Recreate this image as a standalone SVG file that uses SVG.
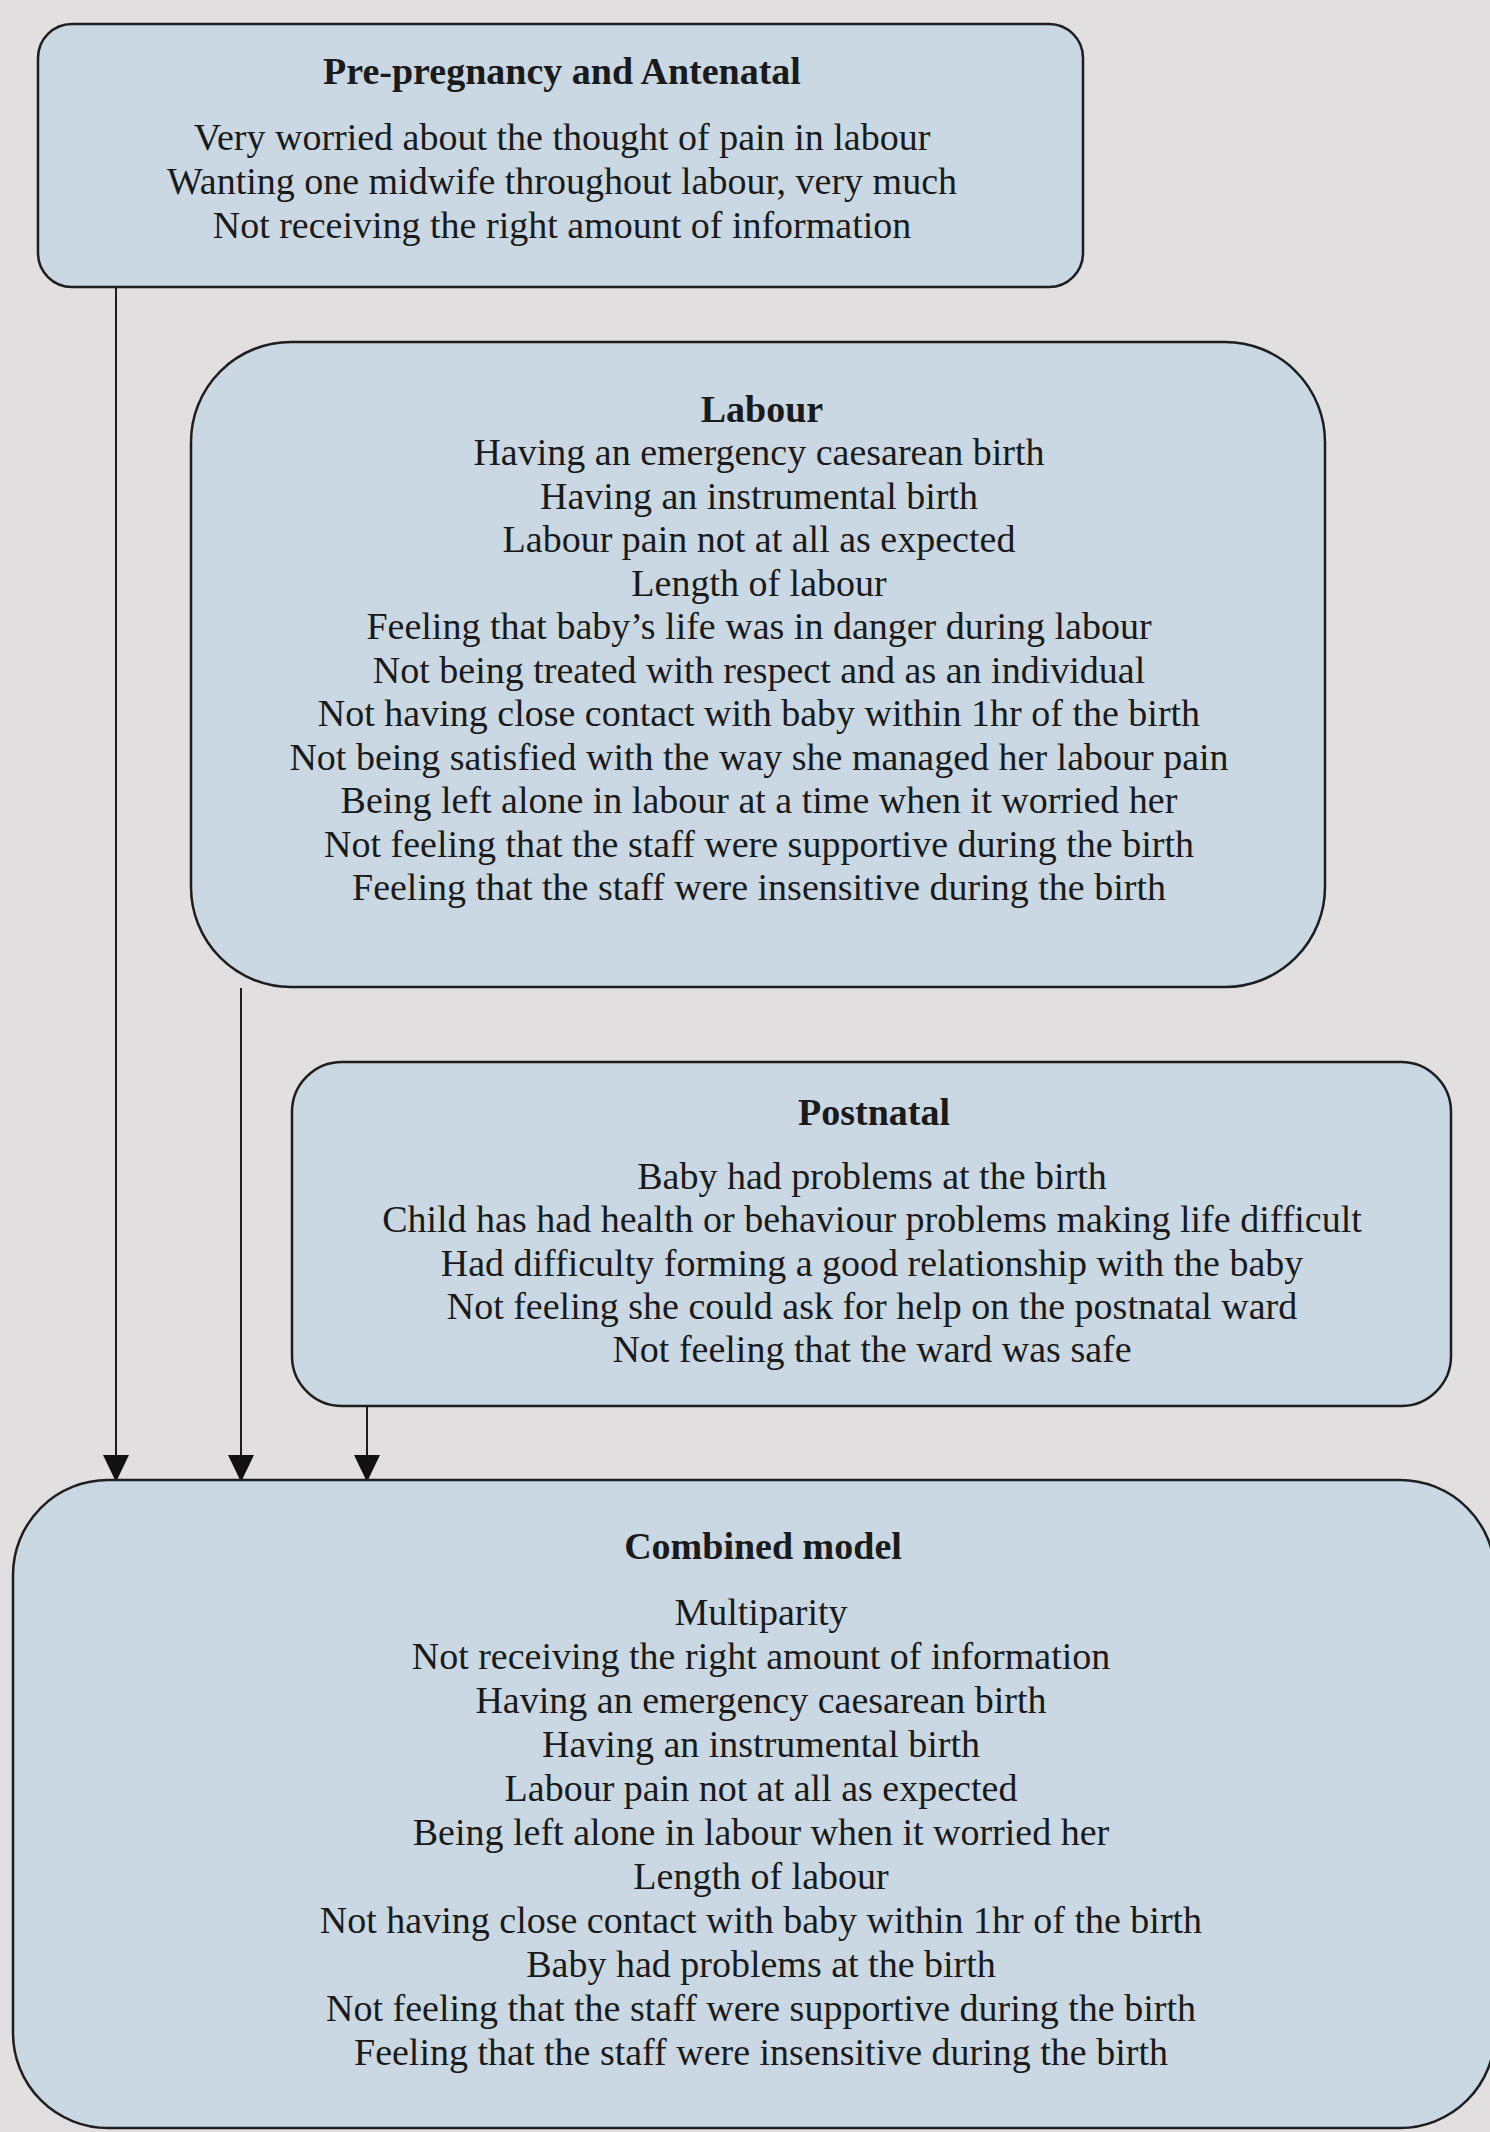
<svg xmlns="http://www.w3.org/2000/svg" width="1490" height="2132" viewBox="0 0 1490 2132">
<style>
.box{fill:#c9d8e2;stroke:#1e1e1e;stroke-width:2.5}
text{font-family:"Liberation Serif","Times New Roman",serif;font-size:38px;fill:#1a1a1a;text-anchor:middle}
.t{font-weight:bold}
.c{stroke:#1e1e1e;stroke-width:2;fill:none}
</style>
<defs>
<marker id="ah" markerUnits="userSpaceOnUse" markerWidth="28" markerHeight="28" viewBox="0 0 28 28" refX="27" refY="14" orient="auto">
<path d="M0,1 L27,14 L0,27 Z" fill="#111"/>
</marker>
</defs>
<rect width="1490" height="2132" fill="#e1dfe0"/>
<g id="connectors">
<line class="c" x1="116" y1="287" x2="116" y2="1482" marker-end="url(#ah)"/>
<line class="c" x1="241" y1="988" x2="241" y2="1482" marker-end="url(#ah)"/>
<line class="c" x1="367" y1="1406" x2="367" y2="1482" marker-end="url(#ah)"/>
</g>
<g id="antenatal">
<rect class="box" x="38" y="24" width="1045" height="263" rx="34" ry="34"/>
<text class="t" x="562" y="84">Pre-pregnancy and Antenatal</text>
<text x="562" y="150">Very worried about the thought of pain in labour</text>
<text x="562" y="194">Wanting one midwife throughout labour, very much</text>
<text x="562" y="238">Not receiving the right amount of information</text>
</g>
<g id="labour">
<rect class="box" x="191" y="342" width="1134" height="645" rx="100" ry="100"/>
<text class="t" x="762" y="422">Labour</text>
<text x="759" y="465">Having an emergency caesarean birth</text>
<text x="759" y="508.5">Having an instrumental birth</text>
<text x="759" y="552">Labour pain not at all as expected</text>
<text x="759" y="595.5">Length of labour</text>
<text x="759" y="639">Feeling that baby’s life was in danger during labour</text>
<text x="759" y="682.5">Not being treated with respect and as an individual</text>
<text x="759" y="726">Not having close contact with baby within 1hr of the birth</text>
<text x="759" y="769.5">Not being satisfied with the way she managed her labour pain</text>
<text x="759" y="813">Being left alone in labour at a time when it worried her</text>
<text x="759" y="856.5">Not feeling that the staff were supportive during the birth</text>
<text x="759" y="900">Feeling that the staff were insensitive during the birth</text>
</g>
<g id="postnatal">
<rect class="box" x="292" y="1062" width="1159" height="344" rx="50" ry="50"/>
<text class="t" x="874" y="1125">Postnatal</text>
<text x="872" y="1189">Baby had problems at the birth</text>
<text x="872" y="1232">Child has had health or behaviour problems making life difficult</text>
<text x="872" y="1275.5">Had difficulty forming a good relationship with the baby</text>
<text x="872" y="1319">Not feeling she could ask for help on the postnatal ward</text>
<text x="872" y="1362">Not feeling that the ward was safe</text>
</g>
<g id="combined">
<rect class="box" x="13" y="1480" width="1482" height="648" rx="95" ry="95"/>
<text class="t" x="763" y="1559">Combined model</text>
<text x="761" y="1625">Multiparity</text>
<text x="761" y="1669">Not receiving the right amount of information</text>
<text x="761" y="1713">Having an emergency caesarean birth</text>
<text x="761" y="1757">Having an instrumental birth</text>
<text x="761" y="1801">Labour pain not at all as expected</text>
<text x="761" y="1845">Being left alone in labour when it worried her</text>
<text x="761" y="1889">Length of labour</text>
<text x="761" y="1933">Not having close contact with baby within 1hr of the birth</text>
<text x="761" y="1977">Baby had problems at the birth</text>
<text x="761" y="2021">Not feeling that the staff were supportive during the birth</text>
<text x="761" y="2065">Feeling that the staff were insensitive during the birth</text>
</g>
</svg>
